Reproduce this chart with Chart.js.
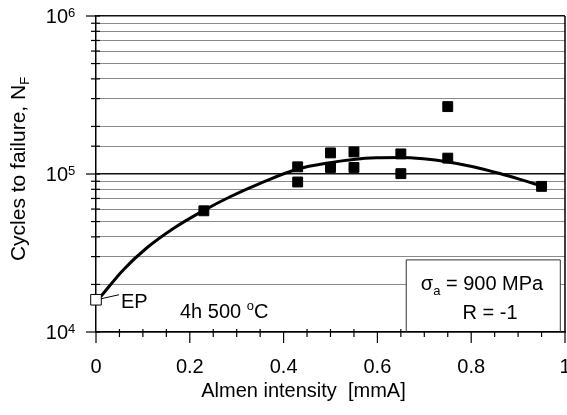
<!DOCTYPE html>
<html>
<head>
<meta charset="utf-8">
<script src="https://cdn.jsdelivr.net/npm/chart.js@4.4.0/dist/chart.umd.min.js"></script>
<style>
  html, body { margin: 0; padding: 0; background: #fff; overflow: hidden; }
  #wrap { width: 567px; height: 415px; position: relative; }
</style>
</head>
<body>
<div id="wrap"><canvas id="chart"></canvas></div>
<script>
// measured specimens (shot peened)
const intensity = [0.23, 0.43, 0.43, 0.50, 0.50, 0.55, 0.55, 0.65, 0.65, 0.75, 0.75, 0.95];
const cycles = [58500, 111000, 89000, 136000, 110000, 138000, 110000, 134000, 100500, 267000, 126000, 83500];

// electropolished reference
const epIntensity = [0];
const epCycles = [16000];

// fitted trend line
const fitIntensity = [0.01, 0.058, 0.108, 0.165, 0.229, 0.286, 0.35, 0.43, 0.499, 0.549, 0.598, 0.648, 0.698, 0.748, 0.804, 0.861, 0.904, 0.95];
const fitCycles = [16750, 24700, 34000, 45200, 58600, 71800, 87300, 107500, 118000, 123600, 126500, 127000, 124700, 119700, 111200, 100700, 92500, 83900];

const xTickLabels = ["0", "0.2", "0.4", "0.6", "0.8", "1"];
const yDecades = [1e4, 1e5, 1e6];
const yExponents = ["4", "5", "6"];

const xTitle = "Almen intensity  [mmA]";
const yTitle = "Cycles to failure, N";
const yTitleSub = "F";
const epLabel = "EP";
const stressLabel = ["\u03c3", "a", " = 900 MPa"];
const ratioLabel = "R = -1";
const heatLabel = ["4h 500 ", "o", "C"];

const FONT = "'Liberation Sans', Arial, sans-serif";

function isDecade(v) {
  const l = Math.log10(v);
  return Math.abs(l - Math.round(l)) < 1e-6;
}
function isMajorX(v) {
  const i = Math.round(v / 0.2);
  return Math.abs(v - i * 0.2) < 1e-6;
}

function line(ctx, x1, y1, x2, y2) {
  ctx.beginPath();
  ctx.moveTo(x1, y1);
  ctx.lineTo(x2, y2);
  ctx.stroke();
}

// draws pieces [main, small, main] with the small one raised (dy < 0) or lowered (dy > 0)
function drawParts(ctx, parts, x, y, dy, size) {
  let cx = x;
  parts.forEach((p, i) => {
    const small = i === 1;
    ctx.font = (small ? "13px " : size + "px ") + FONT;
    ctx.fillText(p, cx, small ? y + dy : y);
    cx += ctx.measureText(p).width;
  });
}
function partsWidth(ctx, parts, size) {
  let w = 0;
  parts.forEach((p, i) => {
    ctx.font = (i === 1 ? "13px " : size + "px ") + FONT;
    w += ctx.measureText(p).width;
  });
  return w;
}

const decoPlugin = {
  id: "deco",
  afterDraw(chart) {
    const { ctx, chartArea: a, scales: { x, y } } = chart;
    ctx.save();
    ctx.strokeStyle = "#000";
    ctx.fillStyle = "#000";

    // right frame line
    ctx.lineWidth = 1.5;
    line(ctx, a.right, a.top, a.right, a.bottom);

    // tick marks
    ctx.lineWidth = 1.2;
    y.ticks.forEach((t) => {
      const py = y.getPixelForValue(t.value);
      const major = isDecade(t.value);
      line(ctx, a.left - (major ? 10 : 5), py, a.left + 4, py);
    });
    x.ticks.forEach((t) => {
      const px = x.getPixelForValue(t.value);
      const major = isMajorX(t.value);
      line(ctx, px, a.bottom - (major ? 0 : 3), px, a.bottom + (major ? 11 : 5));
    });

    // y tick labels with exponents
    ctx.textBaseline = "alphabetic";
    yDecades.forEach((v, i) => {
      const py = y.getPixelForValue(v);
      ctx.font = "20px " + FONT;
      ctx.textAlign = "right";
      ctx.fillText("10", 68, py + 7);
      ctx.font = "13px " + FONT;
      ctx.textAlign = "left";
      ctx.fillText(yExponents[i], 68, py + 1);
    });

    // condition box
    const bl = x.getPixelForValue(0.6615);
    const br = x.getPixelForValue(0.99);
    const bt = y.getPixelForValue(28600);
    ctx.fillStyle = "#fff";
    ctx.fillRect(bl, bt, br - bl, a.bottom - 1 - bt);
    ctx.strokeStyle = "#333";
    ctx.lineWidth = 1;
    ctx.beginPath();
    ctx.moveTo(bl, a.bottom);
    ctx.lineTo(bl, bt);
    ctx.lineTo(br, bt);
    ctx.lineTo(br, a.bottom);
    ctx.stroke();

    ctx.fillStyle = "#000";
    ctx.textAlign = "left";
    const sw = partsWidth(ctx, stressLabel, 20);
    drawParts(ctx, stressLabel, 482 - sw / 2, 290, 5, 20);
    ctx.font = "20px " + FONT;
    ctx.textAlign = "center";
    ctx.fillText(ratioLabel, 490, 319);

    // heat treatment label
    ctx.textAlign = "left";
    drawParts(ctx, heatLabel, 180, 317.5, -7.5, 20);

    // EP label with leader
    const ex = x.getPixelForValue(epIntensity[0]);
    const ey = y.getPixelForValue(epCycles[0]);
    ctx.strokeStyle = "#000";
    ctx.lineWidth = 1;
    line(ctx, ex + 5, ey - 1, ex + 23, ey - 5);
    ctx.font = "20px " + FONT;
    ctx.fillText(epLabel, 121, 307.5);

    // axis titles
    ctx.textAlign = "center";
    ctx.fillText(xTitle, 303.5, 397);

    ctx.translate(25, 169);
    ctx.rotate(-Math.PI / 2);
    const tw = partsWidth(ctx, [yTitle, yTitleSub], 21);
    ctx.textAlign = "left";
    ctx.font = "21px " + FONT;
    ctx.fillText(yTitle, -tw / 2, 0);
    const nw = ctx.measureText(yTitle).width;
    ctx.font = "13px " + FONT;
    ctx.fillText(yTitleSub, -tw / 2 + nw, 4);

    ctx.restore();
  },
};

const ctx = document.getElementById("chart").getContext("2d");

new Chart(ctx, {
  type: "scatter",
  data: {
    datasets: [
      {
        label: "shot peened",
        data: intensity.map((v, i) => ({ x: v, y: cycles[i] })),
        pointStyle: "rect",
        pointRadius: 7,
        backgroundColor: "#000",
        borderColor: "#000",
        borderWidth: 1,
        clip: false,
      },
      {
        label: "EP",
        data: epIntensity.map((v, i) => ({ x: v, y: epCycles[i] })),
        pointStyle: "rect",
        pointRadius: 7.5,
        backgroundColor: "#fff",
        borderColor: "#000",
        borderWidth: 1,
        clip: false,
      },
      {
        label: "fit",
        data: fitIntensity.map((v, i) => ({ x: v, y: fitCycles[i] })),
        showLine: true,
        cubicInterpolationMode: "monotone",
        pointRadius: 0,
        borderColor: "#000",
        borderWidth: 3,
        clip: false,
      },
    ],
  },
  options: {
    responsive: true,
    maintainAspectRatio: false,
    animation: false,
    events: [],
    // no automatic room for the point markers, the frame runs almost to the edge
    layout: { autoPadding: false, padding: { top: 16, right: 2, left: 0, bottom: 0 } },
    plugins: {
      legend: { display: false },
      tooltip: { enabled: false },
    },
    scales: {
      x: {
        type: "linear",
        min: 0,
        max: 1,
        grid: { display: true, drawOnChartArea: false, drawTicks: false },
        border: { display: true, color: "#000", width: 1.5 },
        ticks: {
          stepSize: 0.05,
          autoSkip: false,
          maxRotation: 0,
          padding: 23,
          color: "#000",
          font: { family: FONT, size: 20 },
          callback: (value) => {
            const i = Math.round(value / 0.2);
            return isMajorX(value) ? xTickLabels[i] : "";
          },
        },
        afterFit: (scale) => {
          scale.height = 83;
          scale.paddingLeft = 0;
          scale.paddingRight = 0;
        },
      },
      y: {
        type: "logarithmic",
        min: 1e4,
        max: 1e6,
        grid: {
          drawTicks: false,
          color: (c) => (isDecade(c.tick.value) ? "#111" : "#8a8a8a"),
          lineWidth: (c) => (isDecade(c.tick.value) ? 1.4 : 1),
        },
        border: { display: true, color: "#000", width: 1.5 },
        ticks: { display: false },
        afterFit: (scale) => {
          scale.width = 96;
          scale.paddingTop = 0;
          scale.paddingBottom = 0;
        },
      },
    },
  },
  plugins: [decoPlugin],
});
</script>
</body>
</html>
